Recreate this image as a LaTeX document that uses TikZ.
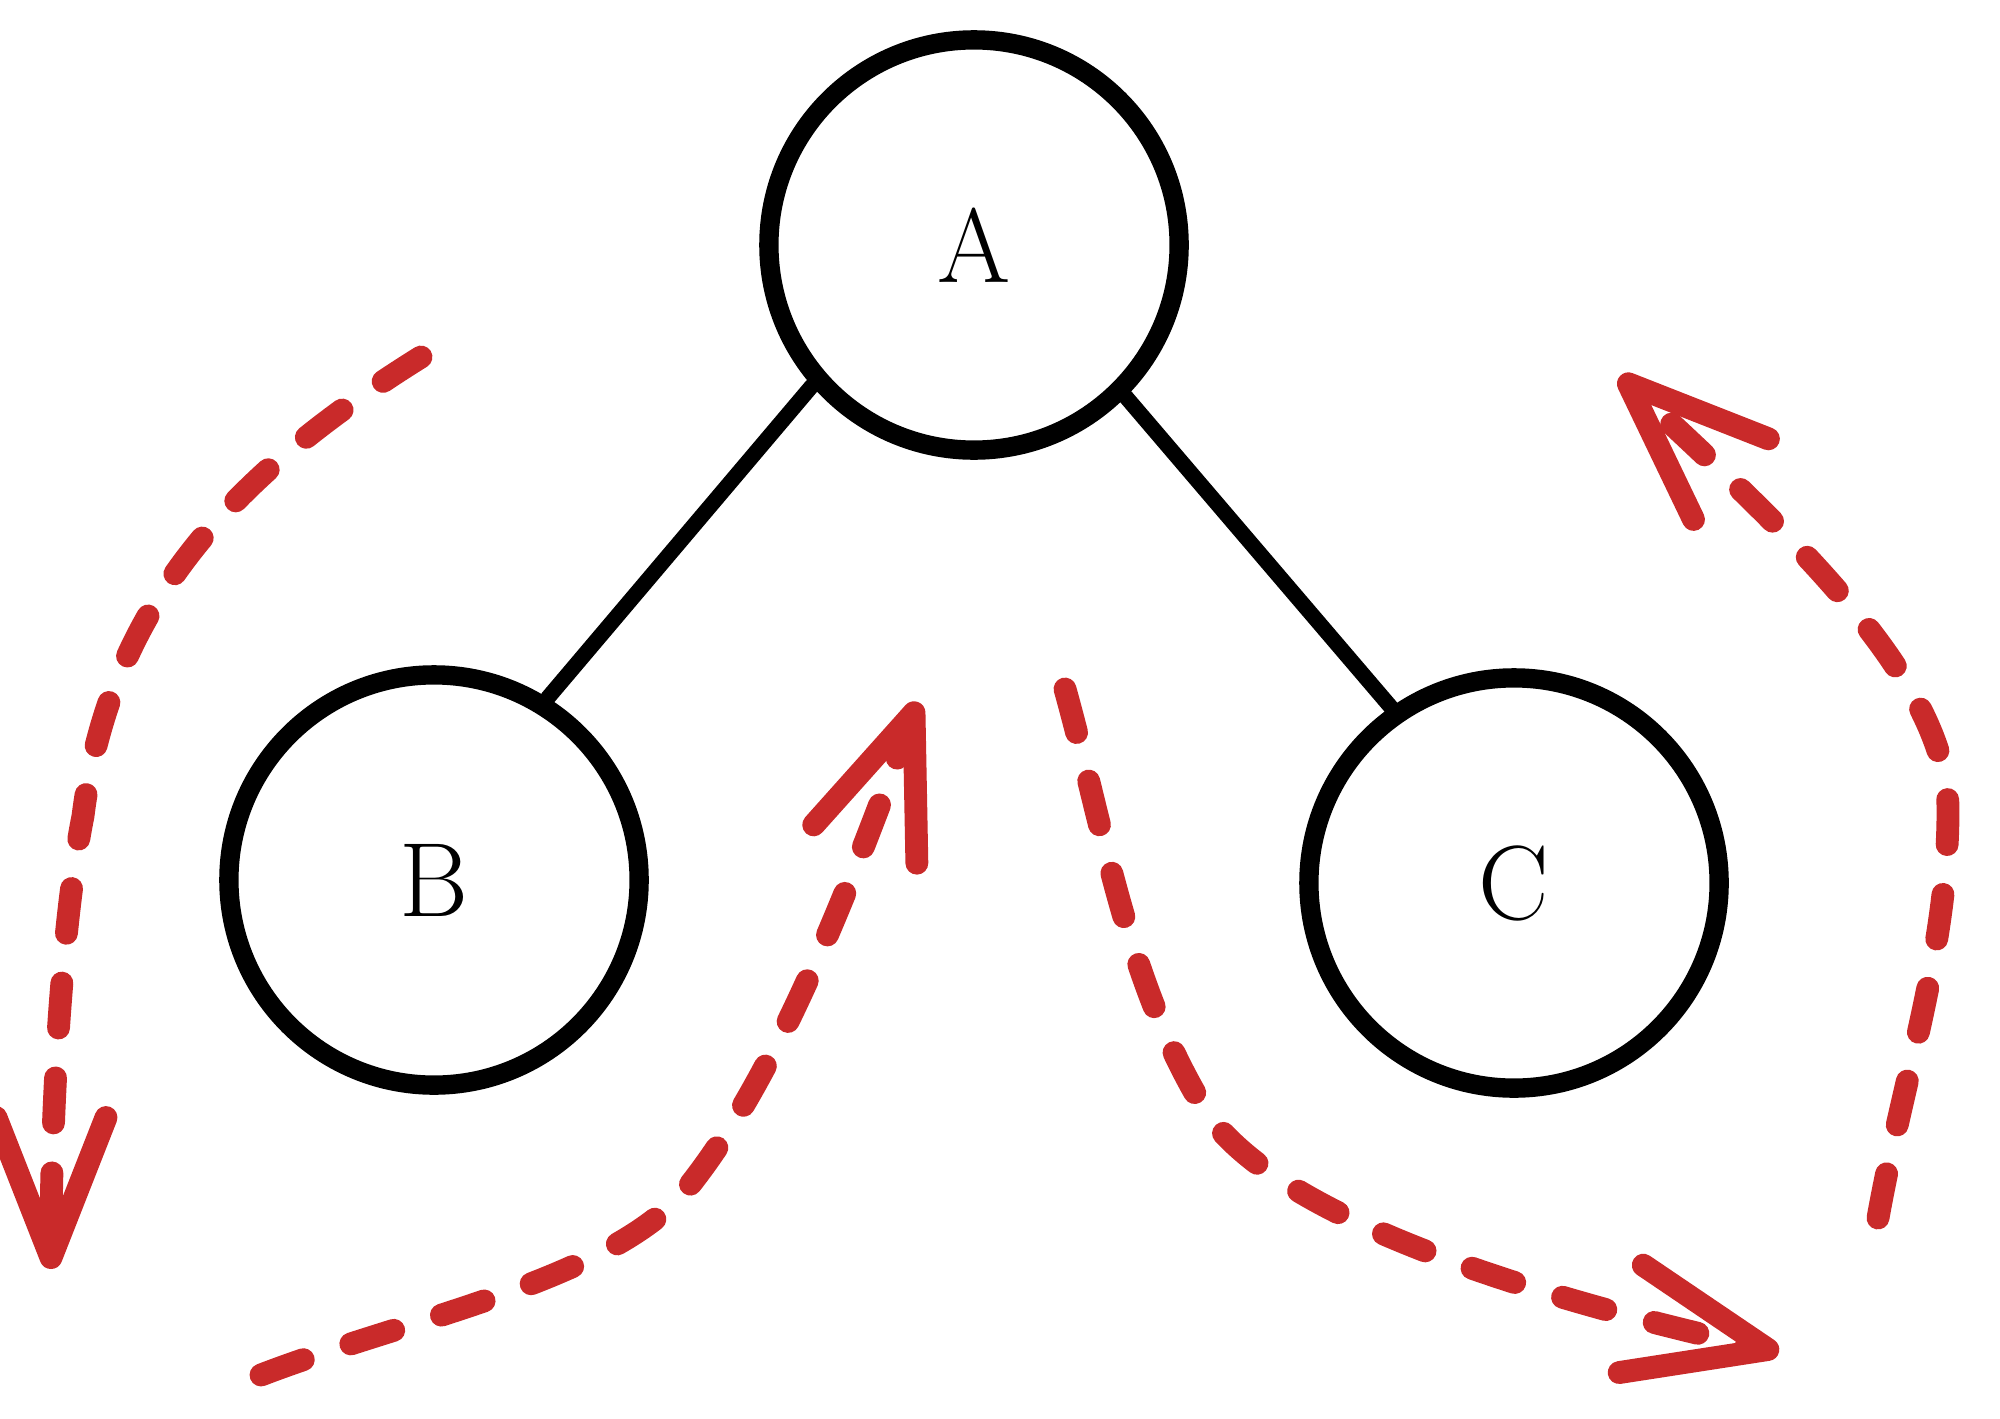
\documentclass[tikz,border=0pt]{standalone}
\usepackage{xcolor}
\usepackage{tikz}
\usetikzlibrary{arrows.meta,positioning}
\definecolor{InkBlack}{HTML}{000000}
\definecolor{PenRed}{HTML}{C92A2A}
\tikzset{
  TN/.style={circle,draw=InkBlack,line width=5.5pt,
             minimum size=4.1cm,inner sep=0pt,
             font=\fontsize{30}{30}\selectfont},
  link/.style={InkBlack,line width=4.4pt,line cap=round},
  walk/.style={PenRed,line width=6.5pt,line cap=round,
               dash pattern=on 0.45cm off 0.5cm,
               -{Straight Barb[length=1.4cm,width=1.1cm,line cap=round,line join=round]}}
}

\begin{document}
\begin{tikzpicture}[x=0.01cm,y=-0.01cm]
  \useasboundingbox (0,0) rectangle (2000,1418);
  \node[TN] (A) at (974,245) {A};
  \node[TN] (B) at (434,880) {B};
  \node[TN] (C) at (1514,883) {C};

  \draw[link](A.221)--(B.58);
  \draw[link](A.-45)--(C.125);

  % traversal arrows
  \coordinate (l0) at (421,357);
  \coordinate (l1) at (83,816);
  \coordinate (l2) at (51,1269);
  \coordinate (m0) at (261,1375);
  \coordinate (m1) at (689,1186);
  \coordinate (m2) at (918,702);
  \coordinate (n0) at (1065,689);
  \coordinate (n1) at (1205,1110);
  \coordinate (n2) at (1779,1352);
  \coordinate (r0) at (1878,1218);
  \coordinate (r1) at (1948,810);
  \coordinate (r2) at (1620,376);

  \draw[walk](l0) .. controls (240,470) and (110,600) .. (l1)
                  .. controls (63,916) and (51,1100) .. (l2);
  \draw[walk](m0) .. controls (406,1319) and (615,1280) .. (m1)
                  .. controls (782,1069) and (856,869) .. (m2);
  \draw[walk](n0) .. controls (1105,833) and (1127,983) .. (n1)
                  .. controls (1280,1225) and (1565,1304) .. (n2);
  \draw[walk](r0) .. controls (1903,1078) and (1948,950) .. (r1)
                  .. controls (1948,680) and (1790,534) .. (r2);
\end{tikzpicture}
\end{document}
